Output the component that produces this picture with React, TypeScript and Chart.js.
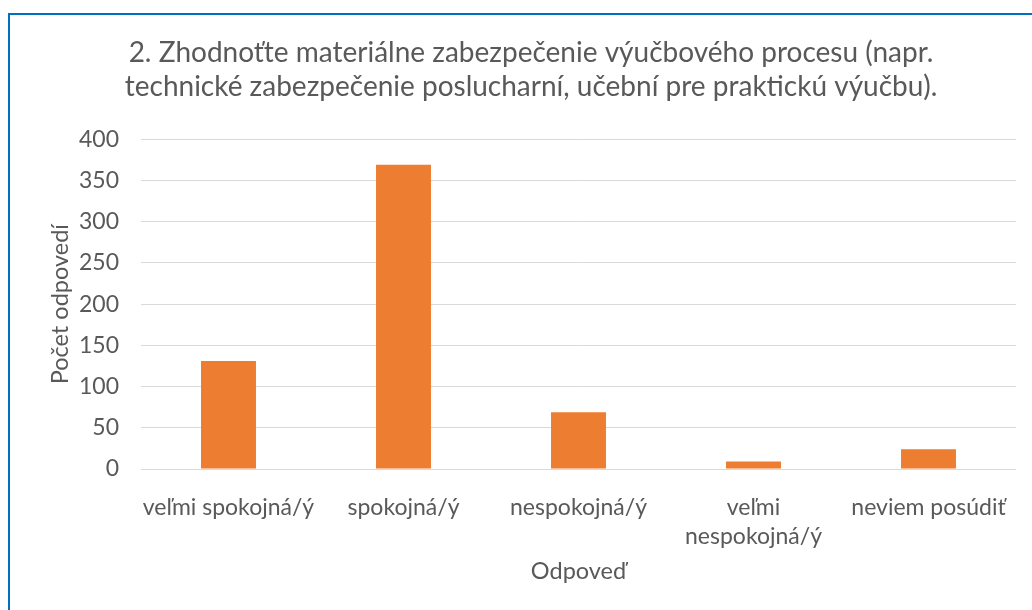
import React, { useEffect, useRef } from "react";
import { Chart, registerables } from "chart.js";

Chart.register(...registerables);

const titleLines = [
  "2. Zhodnoťte materiálne zabezpečenie výučbového procesu (napr.",
  "technické zabezpečenie poslucharní, učební pre praktickú výučbu).",
];
const categories: (string | string[])[] = [
  "veľmi spokojná/ý",
  "spokojná/ý",
  "nespokojná/ý",
  ["veľmi", "nespokojná/ý"],
  "neviem posúdiť",
];
const counts = [131, 369, 69, 9, 24];
const yTitle = "Počet odpovedí";
const xTitle = "Odpoveď";

const TEXT = "#595959";
const FONT = "Lato, 'Liberation Sans', sans-serif";

export default function App() {
  const ref = useRef<HTMLCanvasElement | null>(null);

  useEffect(() => {
    if (!ref.current) return;
    const chart = new Chart(ref.current, {
      type: "bar",
      data: {
        labels: categories,
        datasets: [
          {
            data: counts,
            backgroundColor: "#ED7D31",
            borderWidth: 0,
            barPercentage: 0.314,
            categoryPercentage: 1,
          },
        ],
      },
      options: {
        animation: false,
        responsive: false,
        layout: { padding: { left: 46, right: 16, top: 0, bottom: 0 } },
        plugins: {
          legend: { display: false },
          tooltip: { enabled: false },
          title: {
            display: true,
            text: titleLines,
            color: TEXT,
            font: { family: FONT, size: 28, weight: "normal", lineHeight: 1.22 },
            padding: { top: 36, bottom: 35 },
          },
        },
        scales: {
          x: {
            grid: { display: false },
            border: { display: false },
            ticks: {
              color: TEXT,
              font: { family: FONT, size: 23, lineHeight: 1.25 },
              padding: 16,
              maxRotation: 0,
              autoSkip: false,
            },
            title: {
              display: true,
              text: xTitle,
              color: TEXT,
              font: { family: FONT, size: 23.5, lineHeight: 1.2 },
              padding: { top: 0, bottom: 24 },
            },
            afterFit: (scale: any) => {
              scale.height = 141;
            },
          },
          y: {
            min: 0,
            max: 400,
            grid: { color: "#D9D9D9", lineWidth: 1, drawTicks: false },
            border: { display: false },
            ticks: {
              stepSize: 50,
              color: TEXT,
              font: { family: FONT, size: 23 },
              padding: 22,
            },
            title: {
              display: true,
              text: yTitle,
              color: TEXT,
              font: { family: FONT, size: 23.5, lineHeight: 1.2 },
              padding: { top: 0, bottom: 0 },
            },
            afterFit: (scale: any) => {
              scale.width = 95;
            },
          },
        },
      },
    });
    return () => chart.destroy();
  }, []);

  return (
    <div
      style={{
        position: "fixed",
        left: 0,
        top: 0,
        width: 1032,
        height: 610,
        background: "#ffffff",
        overflow: "hidden",
      }}
    >
      <div
        style={{
          position: "absolute",
          left: 8,
          top: 13,
          width: 1100,
          height: 700,
          borderTop: "2px solid #0070C0",
          borderLeft: "2px solid #0070C0",
        }}
      />
      <canvas
        ref={ref}
        width={1032}
        height={610}
        style={{ position: "absolute", left: 0, top: 0, width: 1032, height: 610 }}
      />
    </div>
  );
}
